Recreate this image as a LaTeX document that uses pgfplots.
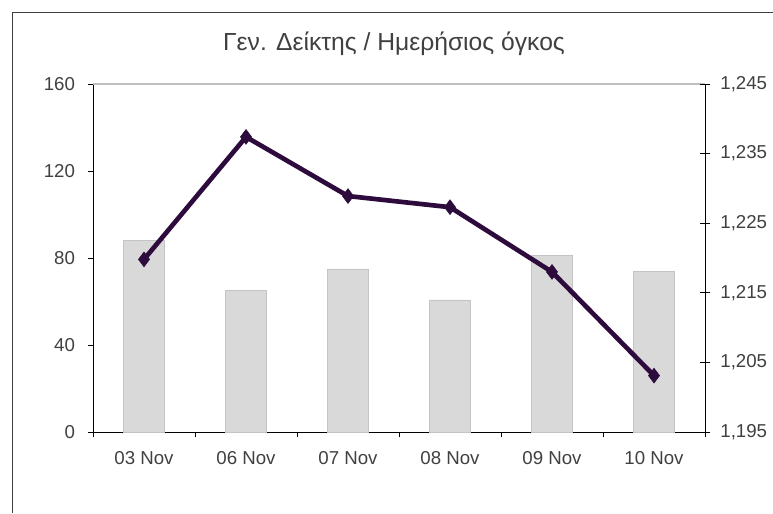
\documentclass[border=0pt]{standalone}
\usepackage{pgfplots}
\pgfplotsset{compat=1.18}
\usepackage{fontspec}
\setmainfont{Liberation Sans}
\definecolor{txt}{HTML}{404040}
\definecolor{barfill}{HTML}{D9D9D9}
\definecolor{baredge}{HTML}{C4C4C4}
\definecolor{linec}{HTML}{2E0B3D}
\pgfplotstableread{
x vol
0 88
1 65
2 75
3 60.7
4 81
5 73.7
}\voldata
\pgfplotstableread{
x idx
0 1219.8
1 1237.4
2 1228.9
3 1227.3
4 1218.0
5 1203.1
}\idxdata
\begin{document}
\begin{tikzpicture}[x=0.75pt,y=0.75pt]
\useasboundingbox (0,0) rectangle (773,513);
\draw[line width=0.75pt, black!75] (12,0) -- (12,500) -- (773,500);
\node[text=txt, font=\fontsize{18.5}{22}\selectfont] at (394,469) {Γεν. Δείκτης / Ημερήσιος όγκος};
\begin{axis}[
  at={(69.75pt,60.75pt)}, anchor=south west, scale only axis,
  width=459pt, height=261pt,
  xmin=-0.5, xmax=5.5, ymin=0, ymax=160,
  ytick={0,40,...,160},
  xtick={0,...,5},
  xticklabels={03 Nov,06 Nov,07 Nov,08 Nov,09 Nov,10 Nov},
  major x tick style={draw=none},
  minor xtick={-0.5,0.5,...,5.5},
  axis x line*=bottom, axis y line*=left,
  axis line style={-, black, line width=0.6pt},
  tick style={black, line width=0.6pt},
  tick align=outside,
  major tick length=4pt, minor tick length=4pt,
  every tick label/.append style={text=txt, font=\fontsize{14}{16}\selectfont},
  /pgf/number format/assume math mode=true,
  xticklabel style={yshift=-7pt},
  yticklabel style={xshift=-6pt},
  clip=false,
]
\draw[black!25, line width=1pt] (rel axis cs:0,1) -- (rel axis cs:1,1);
\addplot[ybar, bar width=0.4, fill=barfill, draw=baredge, line width=0.5pt] table[x=x,y=vol] {\voldata};
\end{axis}
\begin{axis}[
  at={(69.75pt,60.75pt)}, anchor=south west, scale only axis,
  width=459pt, height=261pt,
  xmin=-0.5, xmax=5.5, ymin=1195, ymax=1245,
  ytick={1195,1205,...,1245},
  axis x line=none, axis y line*=right,
  axis line style={-, black, line width=0.6pt},
  tick style={black, line width=0.6pt},
  tick align=center, major tick length=8pt,
  every tick label/.append style={text=txt, font=\fontsize{14}{16}\selectfont},
  /pgf/number format/assume math mode=true,
  /pgf/number format/1000 sep={,},
  yticklabel style={xshift=4pt},
  clip=false,
]
\addplot[linec, line width=3.5pt, mark=diamond*, mark size=5.5pt, mark options={fill=linec, line width=0.5pt}] table[x=x,y=idx] {\idxdata};
\end{axis}
\end{tikzpicture}
\end{document}
